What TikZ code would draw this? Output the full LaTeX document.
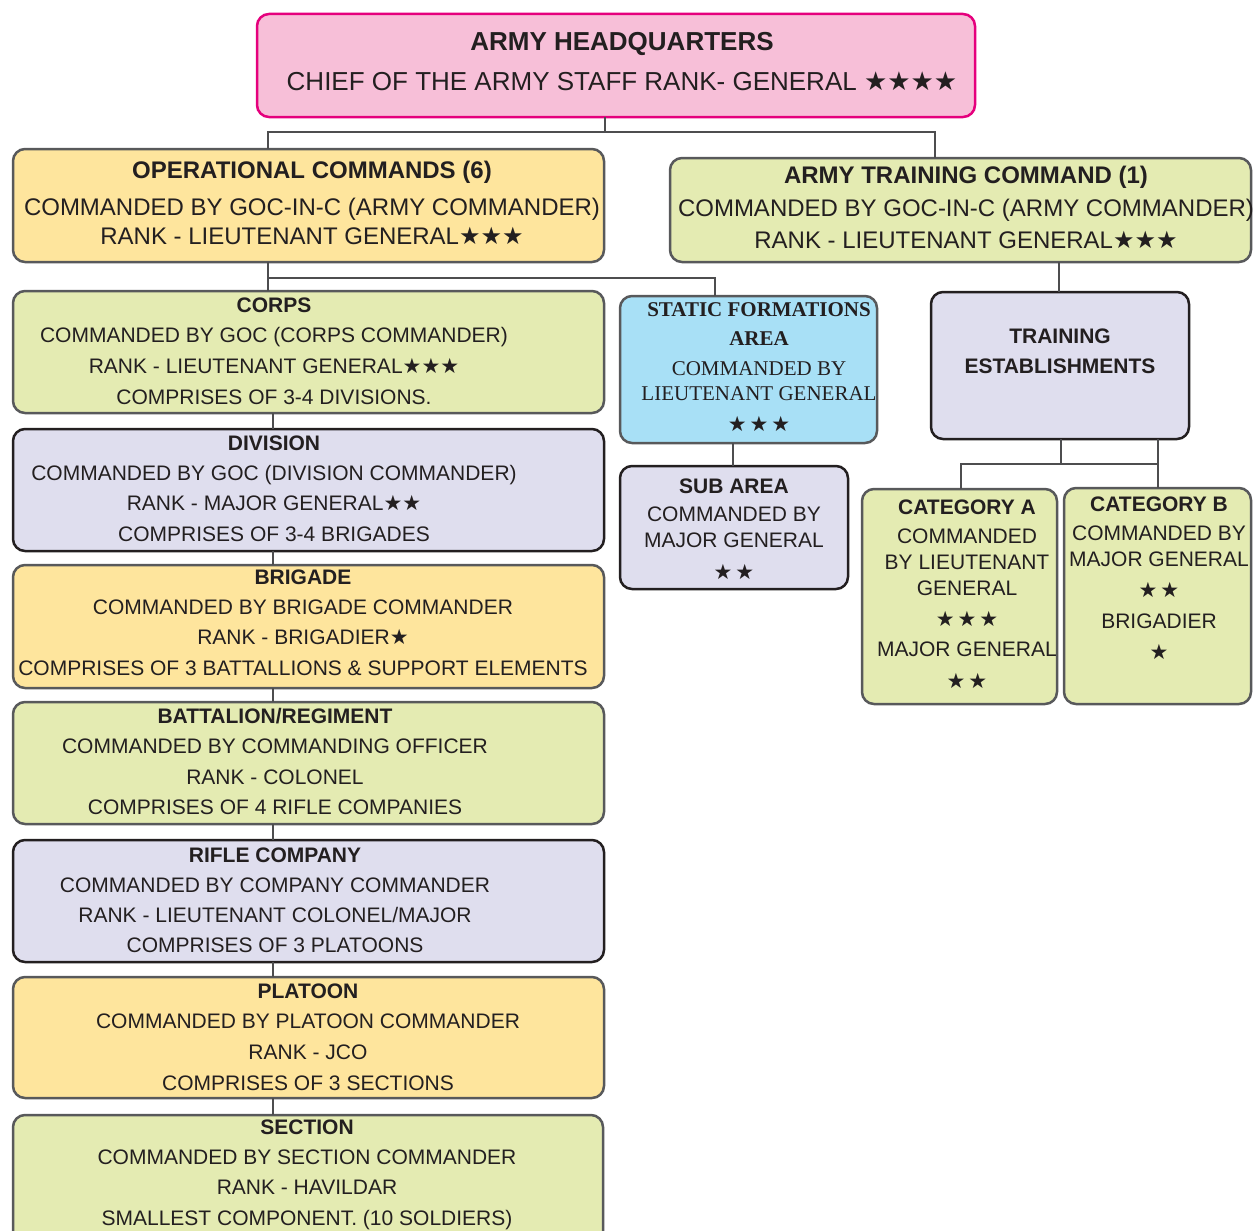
\documentclass[tikz,border=0pt]{standalone}
\usepackage{fontspec}
\setmainfont{Liberation Sans}
\newfontfamily\serifF{Liberation Serif}
\newfontfamily\starF{DejaVu Sans}
\newcommand\sx{{\starF ★}}
\newcommand\sk{\hspace{3pt}}
\definecolor{pinkF}{HTML}{F7BFD8}
\definecolor{pinkD}{HTML}{E5007D}
\definecolor{orgF}{HTML}{FEE59D}
\definecolor{grnF}{HTML}{E4EBB2}
\definecolor{lavF}{HTML}{DFDEEE}
\definecolor{bluF}{HTML}{A8E0F6}
\definecolor{grayD}{HTML}{58595B}
\definecolor{darkD}{HTML}{231F20}
\definecolor{connC}{HTML}{4D4D4F}
\definecolor{txtC}{HTML}{231F20}
\tikzset{
  boxbase/.style={rectangle, rounded corners=12pt, line width=2.5pt, inner sep=0pt, outer sep=0pt},
  pinkbox/.style={boxbase, fill=pinkF, draw=pinkD},
  orgbox/.style={boxbase, fill=orgF, draw=grayD},
  grnbox/.style={boxbase, fill=grnF, draw=grayD},
  lavbox/.style={boxbase, fill=lavF, draw=darkD},
  blubox/.style={boxbase, fill=bluF, draw=grayD},
  txt/.style={align=center, inner sep=0pt, text=txtC},
  conn/.style={draw=connC, line width=2.5pt}
}
\newcommand\mkbox[6]{\node[#2, minimum width={(#5-#3)*1pt}, minimum height={(#6-#4)*1pt}] (#1) at ({(#3+#5)/2},{(#4+#6)/2}) {};}
\begin{document}
\begin{tikzpicture}[x=1pt,y=-1pt]
\useasboundingbox (0,0) rectangle (1253,1231);
% boxes
\mkbox{hq}{pinkbox}{257}{14}{975}{117}
\mkbox{ops}{orgbox}{13}{149}{604}{262}
\mkbox{atc}{grnbox}{670}{158}{1251}{262}
\mkbox{corps}{grnbox}{13}{291}{604}{413}
\mkbox{div}{lavbox}{13}{429}{604}{551}
\mkbox{brig}{orgbox}{13}{565}{604}{688}
\mkbox{bat}{grnbox}{13}{702}{604}{824}
\mkbox{rifle}{lavbox}{13}{840}{604}{962}
\mkbox{plat}{orgbox}{13}{977}{604}{1098}
\mkbox{sec}{grnbox}{13}{1115}{603}{1250}
\mkbox{sfa}{blubox}{620}{296}{877}{443}
\mkbox{sub}{lavbox}{620}{466}{848}{589}
\mkbox{te}{lavbox}{931}{292}{1189}{439}
\mkbox{cata}{grnbox}{862}{489}{1057}{704}
\mkbox{catb}{grnbox}{1064}{488}{1251}{704}
% connectors
\coordinate (j1) at (605,132);
\draw[conn] (hq.south -| j1) -- (j1);
\draw[conn] (ops.north -| 268,0) |- (j1);
\draw[conn] (j1) -| (atc.north -| 935,0);
\coordinate (j2) at (268,278);
\draw[conn] (ops.south -| j2) -- (corps.north -| j2);
\draw[conn] (j2) -| (sfa.north -| 715,0);
\draw[conn] (corps.south -| 273,0) -- (div.north -| 273,0);
\draw[conn] (div.south -| 273,0) -- (brig.north -| 273,0);
\draw[conn] (brig.south -| 273,0) -- (bat.north -| 273,0);
\draw[conn] (bat.south -| 273,0) -- (rifle.north -| 273,0);
\draw[conn] (rifle.south -| 273,0) -- (plat.north -| 273,0);
\draw[conn] (plat.south -| 273,0) -- (sec.north -| 273,0);
\draw[conn] (sfa.south -| 733,0) -- (sub.north -| 733,0);
\draw[conn] (atc.south -| 1059,0) -- (te.north -| 1059,0);
\coordinate (j3) at (1061,464);
\coordinate (j4) at (1158,464);
\draw[conn] (te.south -| j3) -- (j3);
\draw[conn] (cata.north -| 961,0) |- (j4);
\draw[conn] (te.south -| j4) -- (catb.north -| j4);
% texts
\node[txt, font={\fontsize{26}{40}\selectfont}] (hqT) at (622,62)
  {\textbf{ARMY HEADQUARTERS}\\CHIEF OF THE ARMY STAFF RANK- GENERAL \sx\sx\sx\sx};
\node[txt, font={\fontsize{24}{29}\selectfont}] (opsT) at (312,203)
  {\textbf{OPERATIONAL COMMANDS (6)}\\[8pt]COMMANDED BY GOC-IN-C (ARMY COMMANDER)\\RANK - LIEUTENANT GENERAL\sx\sx\sx};
\node[txt, font={\fontsize{24}{32.5}\selectfont}] (atcT) at (966,207.5)
  {\textbf{ARMY TRAINING COMMAND (1)}\\COMMANDED BY GOC-IN-C (ARMY COMMANDER)\\RANK - LIEUTENANT GENERAL\sx\sx\sx};
\node[txt, font={\fontsize{21}{30.7}\selectfont}] (corpsT) at (274,351)
  {\textbf{CORPS}\\COMMANDED BY GOC (CORPS COMMANDER)\\RANK - LIEUTENANT GENERAL\sx\sx\sx\\COMPRISES OF 3-4 DIVISIONS.};
\node[txt, font={\fontsize{21}{30.3}\selectfont}] (divT) at (274,488.5)
  {\textbf{DIVISION}\\COMMANDED BY GOC (DIVISION COMMANDER)\\RANK - MAJOR GENERAL\sx\sx\\COMPRISES OF 3-4 BRIGADES};
\node[txt, font={\fontsize{21}{30.3}\selectfont}] (brigT) at (303,622.5)
  {\textbf{BRIGADE}\\COMMANDED BY BRIGADE COMMANDER\\RANK - BRIGADIER\sx\\COMPRISES OF 3 BATTALLIONS \& SUPPORT ELEMENTS};
\node[txt, font={\fontsize{21}{30.3}\selectfont}] (batT) at (275,761.5)
  {\textbf{BATTALION/REGIMENT}\\COMMANDED BY COMMANDING OFFICER\\RANK - COLONEL\\COMPRISES OF 4 RIFLE COMPANIES};
\node[txt, font={\fontsize{21}{30}\selectfont}] (rifleT) at (275,900)
  {\textbf{RIFLE COMPANY}\\COMMANDED BY COMPANY COMMANDER\\RANK - LIEUTENANT COLONEL/MAJOR\\COMPRISES OF 3 PLATOONS};
\node[txt, font={\fontsize{21}{30.7}\selectfont}] (platT) at (308,1037)
  {\textbf{PLATOON}\\COMMANDED BY PLATOON COMMANDER\\RANK - JCO\\COMPRISES OF 3 SECTIONS};
\node[txt, font={\fontsize{21}{30.3}\selectfont}] (secT) at (307,1174.5)
  {\textbf{SECTION}\\COMMANDED BY SECTION COMMANDER\\RANK - HAVILDAR\\SMALLEST COMPONENT. (10 SOLDIERS)};
\node[txt, font={\serifF\fontsize{21}{25}\selectfont}] (sfaT) at (759,367.5)
  {\textbf{STATIC FORMATIONS}\\[4pt]\textbf{AREA}\\[5pt]COMMANDED BY\\LIEUTENANT GENERAL\\[6pt]\sx\sk\sx\sk\sx};
\node[txt, font={\fontsize{21}{26}\selectfont}] (subT) at (734,529)
  {\textbf{SUB AREA}\\[2pt]COMMANDED BY\\MAJOR GENERAL\\[6pt]\sx\sk\sx};
\node[txt, font={\fontsize{21}{30}\selectfont}] (teT) at (1060,351)
  {\textbf{TRAINING}\\\textbf{ESTABLISHMENTS}};
\node[txt, font={\fontsize{21}{26}\selectfont}] (cataT) at (967,594)
  {\textbf{CATEGORY A}\\[3pt]COMMANDED\\BY LIEUTENANT\\GENERAL\\[5pt]\sx\sk\sx\sk\sx\\[4pt]MAJOR GENERAL\\[6pt]\sx\sk\sx};
\node[txt, font={\fontsize{21}{26}\selectfont}] (catbT) at (1159,578.5)
  {\textbf{CATEGORY B}\\[3pt]COMMANDED BY\\MAJOR GENERAL\\[5pt]\sx\sk\sx\\[5pt]BRIGADIER\\[5pt]\sx};
\end{tikzpicture}
\end{document}
